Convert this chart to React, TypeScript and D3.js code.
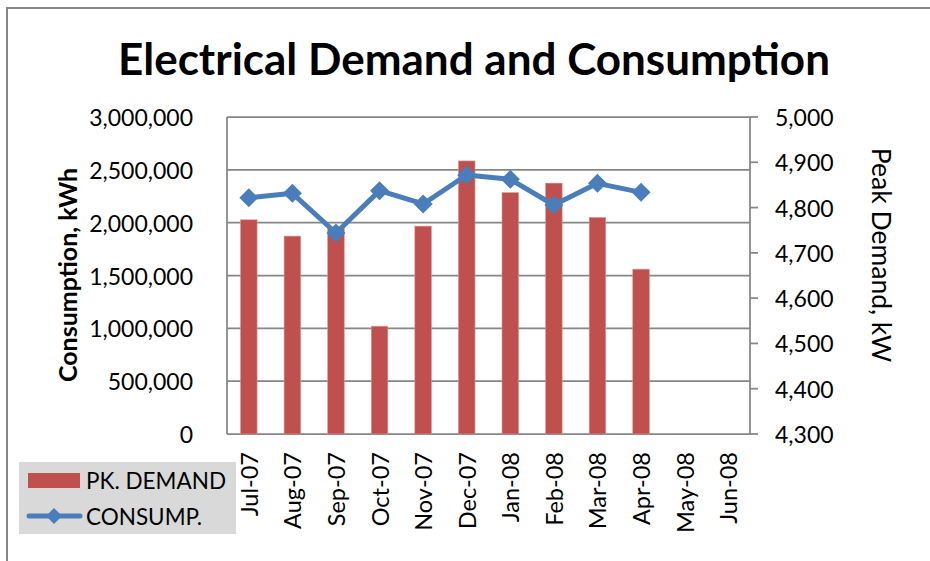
import React from "react"
import * as d3 from "d3"

// chart data
const months = ["Jul-07", "Aug-07", "Sep-07", "Oct-07", "Nov-07", "Dec-07", "Jan-08", "Feb-08", "Mar-08", "Apr-08", "May-08", "Jun-08"]
const peakDemand: (number | null)[] = [4773, 4737, 4755, 4538, 4759, 4903, 4833, 4854, 4778, 4664, null, null]
const consumption: (number | null)[] = [2236000, 2278000, 1902000, 2303000, 2177000, 2451000, 2410000, 2167000, 2372000, 2287000, null, null]
const leftTicks = [0, 500000, 1000000, 1500000, 2000000, 2500000, 3000000]
const rightTicks = [4300, 4400, 4500, 4600, 4700, 4800, 4900, 5000]

const W = 930
const H = 561
const plot = { left: 227, right: 750, top: 117, bottom: 434 }
const font = "Lato, 'Open Sans', sans-serif"
const gray = "#868686"
const red = "#C0504D"
const blue = "#4A7EBB"
const fmt = d3.format(",")

const diamond = (cx: number, cy: number, r: number) =>
    `M${cx},${cy - r}L${cx + r},${cy}L${cx},${cy + r}L${cx - r},${cy}Z`

export default function App() {
    const x = d3
        .scaleBand()
        .domain(months)
        .range([plot.left, plot.right])
        .paddingInner(0.62)
        .paddingOuter(0.31)
    const yLeft = d3.scaleLinear().domain([0, 3000000]).range([plot.bottom, plot.top])
    const yRight = d3.scaleLinear().domain([4300, 5000]).range([plot.bottom, plot.top])
    const cx = (m: string) => (x(m) as number) + x.bandwidth() / 2

    const linePts = months
        .map((m, i) => ({ m, v: consumption[i] }))
        .filter(d => d.v !== null) as { m: string; v: number }[]
    const line = d3
        .line<{ m: string; v: number }>()
        .x(d => cx(d.m))
        .y(d => yLeft(d.v))

    return (
        <svg width={W} height={H} style={{ position: "fixed", left: 0, top: 0, background: "#fff" }} fontFamily={font}>
            {/* outer chart frame */}
            <path d={`M7,${H}V8H${W}`} fill="none" stroke={gray} strokeWidth={2} />

            <text x={474} y={75} textAnchor="middle" fontSize={44} fontWeight="bold" fill="#000">
                Electrical Demand and Consumption
            </text>

            {/* gridlines */}
            {leftTicks.map(t => (
                <line key={t} x1={plot.left} x2={plot.right} y1={yLeft(t)} y2={yLeft(t)} stroke={gray} strokeWidth={1.75} />
            ))}
            <line x1={plot.left} x2={plot.left} y1={plot.top} y2={plot.bottom} stroke={gray} strokeWidth={1.75} />
            <line x1={plot.right} x2={plot.right} y1={plot.top} y2={plot.bottom} stroke={gray} strokeWidth={1.75} />

            {/* bars: peak demand on right axis */}
            {months.map((m, i) =>
                peakDemand[i] === null ? null : (
                    <rect
                        key={m}
                        x={x(m)}
                        y={yRight(peakDemand[i] as number)}
                        width={x.bandwidth()}
                        height={plot.bottom - yRight(peakDemand[i] as number)}
                        fill={red}
                        stroke="#D99694"
                        strokeWidth={0.6}
                    />
                )
            )}

            {/* consumption line on left axis */}
            <path d={line(linePts) || ""} fill="none" stroke={blue} strokeWidth={5} strokeLinejoin="round" />
            {linePts.map(d => (
                <path key={d.m} d={diamond(cx(d.m), yLeft(d.v), 9.5)} fill={blue} />
            ))}

            {/* left axis labels */}
            {leftTicks.map(t => (
                <text key={t} x={193} y={yLeft(t)} textAnchor="end" dominantBaseline="central" fontSize={23} fill="#000">
                    {fmt(t)}
                </text>
            ))}
            <text
                transform={`translate(67,275) rotate(-90)`}
                textAnchor="middle"
                dominantBaseline="central"
                fontSize={25}
                fontWeight="bold"
                fill="#000"
            >
                Consumption, kWh
            </text>

            {/* right axis */}
            {rightTicks.map(t => (
                <g key={t}>
                    <line x1={plot.right} x2={plot.right + 8} y1={yRight(t)} y2={yRight(t)} stroke={gray} strokeWidth={1.75} />
                    <text x={775} y={yRight(t)} dominantBaseline="central" fontSize={23} fill="#000">
                        {fmt(t)}
                    </text>
                </g>
            ))}
            <text
                transform={`translate(882,255) rotate(90)`}
                textAnchor="middle"
                dominantBaseline="central"
                fontSize={26.5}
                fill="#000"
            >
                Peak Demand, kW
            </text>

            {/* category labels */}
            {months.map(m => (
                <text
                    key={m}
                    transform={`translate(${cx(m)},452) rotate(-90)`}
                    textAnchor="end"
                    dominantBaseline="central"
                    fontSize={23.5}
                    fill="#000"
                >
                    {m}
                </text>
            ))}

            {/* legend */}
            <rect x={19} y={462} width={217} height={72} fill="#D9D9D9" />
            <rect x={28} y={473} width={52} height={15} fill={red} />
            <text x={86} y={480} dominantBaseline="central" fontSize={22.5} fill="#000">
                PK. DEMAND
            </text>
            <line x1={29} x2={80} y1={516} y2={516} stroke={blue} strokeWidth={5} strokeLinecap="round" />
            <path d={diamond(54, 516, 8)} fill={blue} />
            <text x={86} y={516} dominantBaseline="central" fontSize={22.5} fill="#000">
                CONSUMP.
            </text>
        </svg>
    )
}
